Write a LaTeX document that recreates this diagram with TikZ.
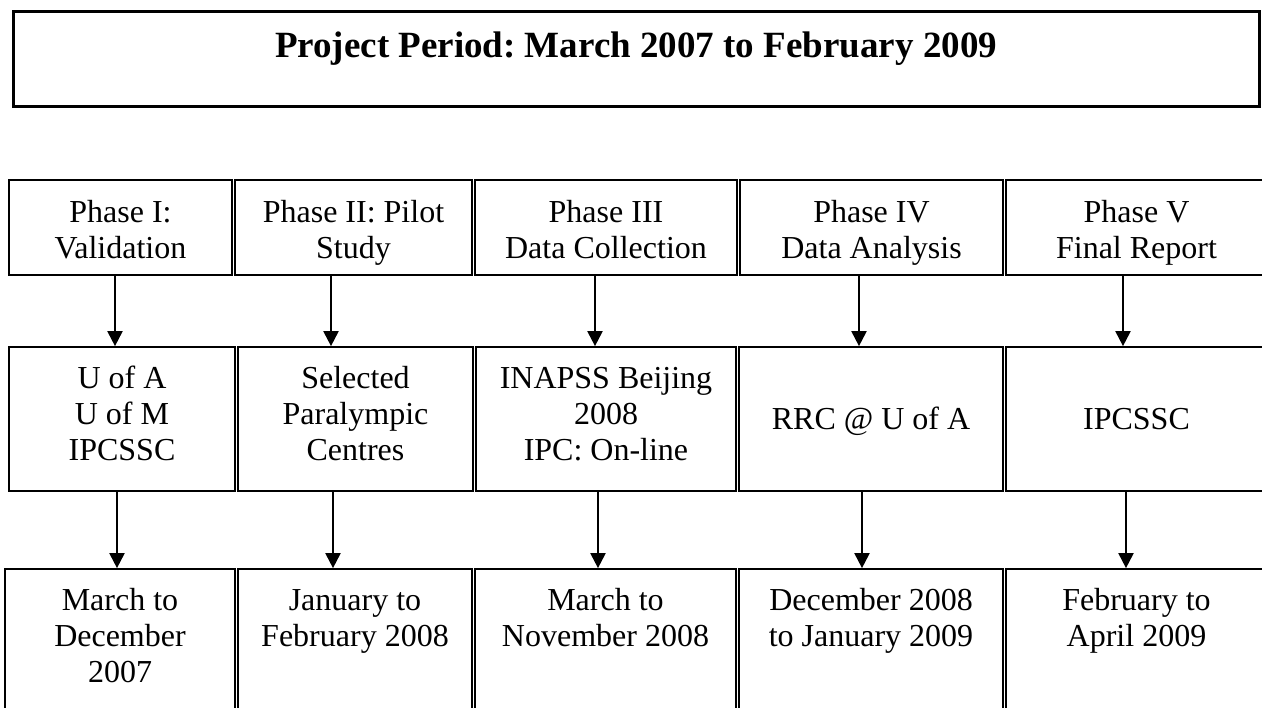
\documentclass[tikz,border=0pt]{standalone}
\usepackage{fontspec}
\setmainfont{Liberation Serif}
\usetikzlibrary{arrows.meta,fit}
\frenchspacing
\begin{document}
\begin{tikzpicture}[x=1pt,y=-1pt,
  box/.style={draw, line width=1.7pt, inner sep=0pt, rectangle},
  titlebox/.style={draw, line width=3pt, inner sep=0pt, rectangle},
  txt/.style={align=center, inner sep=0pt, font=\fontsize{32}{36}\selectfont\frenchspacing},
  arr/.style={line width=2pt, -{Triangle[length=15pt,width=15pt]}},
]
\useasboundingbox (0,0) rectangle (1262,708);
\fill[white] (0,0) rectangle (1262,708);
\clip (0,0) rectangle (1262,708);

% title
\node[titlebox, fit={(13,12) (1259,107)}] (top) {};
\node[inner sep=0pt, anchor=base, font=\bfseries\fontsize{37}{42}\selectfont\frenchspacing] (title) at (636,58) {Project Period: March 2007 to February 2009};

% row 1 boxes
\node[box, fit={(9,180) (232,275)}] (p1) {};
\node[box, fit={(235,180) (472,275)}] (p2) {};
\node[box, fit={(475,180) (737,275)}] (p3) {};
\node[box, fit={(740,180) (1003,275)}] (p4) {};
\node[box, fit={(1006,180) (1290,275)}] (p5) {};

% row 2 boxes
\node[box, fit={(9,347) (235,491)}] (u1) {};
\node[box, fit={(238,347) (473,491)}] (u2) {};
\node[box, fit={(476,347) (736,491)}] (u3) {};
\node[box, fit={(739,347) (1003,491)}] (u4) {};
\node[box, fit={(1006,347) (1290,491)}] (u5) {};

% row 3 boxes
\node[box, fit={(5,569) (235,780)}] (d1) {};
\node[box, fit={(238,569) (472,780)}] (d2) {};
\node[box, fit={(475,569) (736,780)}] (d3) {};
\node[box, fit={(739,569) (1003,780)}] (d4) {};
\node[box, fit={(1006,569) (1290,780)}] (d5) {};

% row 1 texts (first baseline at 222)
\node[txt, anchor=north] (t1) at (120.5,196.8) {\strut Phase I:\\Validation};
\node[txt, anchor=north] (t2) at (353.5,196.8) {\strut Phase II: Pilot\\Study};
\node[txt, anchor=north] (t3) at (606,196.8) {\strut Phase III\\Data Collection};
\node[txt, anchor=north] (t4) at (871.5,196.8) {\strut Phase IV\\Data Analysis};
\node[txt, anchor=north] (t5) at (1136.5,196.8) {\strut Phase V\\Final Report};

% row 2 texts (first baseline at 388)
\node[txt, anchor=north] (s1) at (122,362.8) {\strut U of A\\U of M\\IPCSSC};
\node[txt, anchor=north] (s2) at (355.5,362.8) {\strut Selected\\Paralympic\\Centres};
\node[txt, anchor=north] (s3) at (606,362.8) {\strut INAPSS Beijing\\2008\\IPC: On-line};
\node[txt, anchor=base] (s4) at (871,430) {RRC @ U of A};
\node[txt, anchor=base] (s5) at (1136.5,430) {IPCSSC};

% row 3 texts (first baseline at 610)
\node[txt, anchor=north] (r1) at (120,584.8) {\strut March to\\December\\2007};
\node[txt, anchor=north] (r2) at (355,584.8) {\strut January to\\February 2008};
\node[txt, anchor=north] (r3) at (605.5,584.8) {\strut March to\\November 2008};
\node[txt, anchor=north] (r4) at (871,584.8) {\strut December 2008\\to January 2009};
\node[txt, anchor=north] (r5) at (1136.5,584.8) {\strut February to\\April 2009};

% arrow x positions
\coordinate (a1) at (115,0);
\coordinate (a2) at (331,0);
\coordinate (a3) at (595,0);
\coordinate (a4) at (859,0);
\coordinate (a5) at (1123,0);
\coordinate (b1) at (117,0);
\coordinate (b2) at (333,0);
\coordinate (b3) at (598,0);
\coordinate (b4) at (862,0);
\coordinate (b5) at (1126,0);

\draw[arr] (p1.south -| a1) -- (u1.north -| a1);
\draw[arr] (p2.south -| a2) -- (u2.north -| a2);
\draw[arr] (p3.south -| a3) -- (u3.north -| a3);
\draw[arr] (p4.south -| a4) -- (u4.north -| a4);
\draw[arr] (p5.south -| a5) -- (u5.north -| a5);

\draw[arr] (u1.south -| b1) -- (d1.north -| b1);
\draw[arr] (u2.south -| b2) -- (d2.north -| b2);
\draw[arr] (u3.south -| b3) -- (d3.north -| b3);
\draw[arr] (u4.south -| b4) -- (d4.north -| b4);
\draw[arr] (u5.south -| b5) -- (d5.north -| b5);
\end{tikzpicture}
\end{document}
